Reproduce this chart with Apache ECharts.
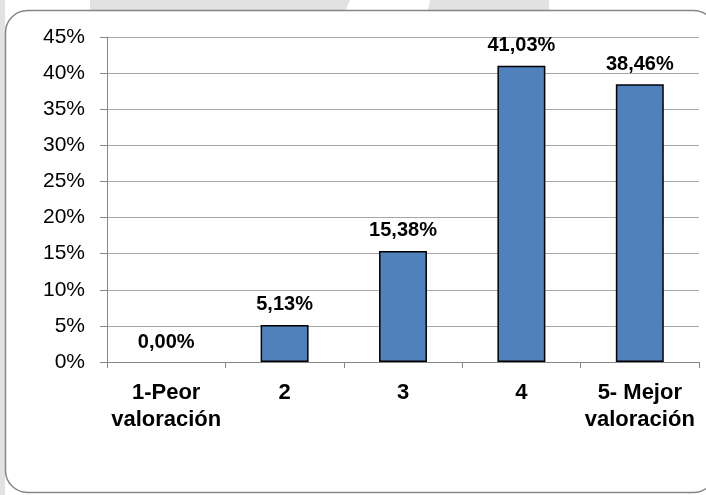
<!DOCTYPE html>
<html><head><meta charset="utf-8">
<script src="https://cdn.jsdelivr.net/npm/echarts@6/dist/echarts.min.js"></script>
<style>html,body{margin:0;padding:0;background:#fff}#c{width:706px;height:495px}</style>
</head><body><div id="c"></div>
<script>
const categories = ['1-Peor\nvaloración', '2', '3', '4', '5- Mejor\nvaloración'];
const values = [0.00, 5.13, 15.38, 41.03, 38.46];
const yTicks = [0, 5, 10, 15, 20, 25, 30, 35, 40, 45];

const chart = echarts.init(document.getElementById('c'));
chart.setOption({
  animation: false,
  backgroundColor: '#ffffff',
  graphic: [
    { type: 'rect', z: -10, shape: { x: 0, y: 0, width: 5, height: 495 }, style: { fill: '#e2e2e2' } },
    { type: 'polygon', z: -10, shape: { points: [[90, 0], [350, 0], [344, 14], [90, 14]] }, style: { fill: '#e2e2e2' } },
    { type: 'polygon', z: -10, shape: { points: [[430, 0], [549, 0], [549, 14], [427, 14]] }, style: { fill: '#e2e2e2' } },
    { type: 'rect', z: -5, shape: { x: 5.5, y: 10.5, width: 710, height: 482, r: 22 },
      style: { fill: '#ffffff', stroke: '#868686', lineWidth: 1.5 } }
  ],
  grid: { left: 107, right: 7, top: 37, bottom: 133, containLabel: false },
  xAxis: {
    type: 'category',
    data: categories,
    axisLine: { lineStyle: { color: '#868686', width: 1 } },
    axisTick: { show: true, length: 6, lineStyle: { color: '#868686' } },
    axisLabel: {
      color: '#000', fontFamily: 'Liberation Sans', fontWeight: 'bold', fontSize: 22,
      lineHeight: 27, margin: 17, interval: 0
    }
  },
  yAxis: {
    type: 'value', min: 0, max: 45, interval: 5,
    axisLine: { show: true, lineStyle: { color: '#868686', width: 1 } },
    axisTick: { show: true, length: 7, lineStyle: { color: '#868686' } },
    splitLine: { lineStyle: { color: '#a6a6a6', width: 1 } },
    axisLabel: {
      color: '#000', fontFamily: 'Liberation Sans', fontSize: 21, margin: 22,
      formatter: v => yTicks.includes(v) ? v + '%' : ''
    }
  },
  series: [{
    type: 'bar',
    data: values.map(v => v === 0 ? { value: v, itemStyle: { borderWidth: 0 } } : v),
    barWidth: '40.5%',
    itemStyle: { color: '#4f81bd', borderColor: '#000', borderWidth: 1.5 },
    label: {
      show: true, position: 'top', distance: 10,
      color: '#000', fontFamily: 'Liberation Sans', fontWeight: 'bold', fontSize: 20,
      formatter: p => p.value.toFixed(2).replace('.', ',') + '%'
    }
  }]
});
</script></body></html>
